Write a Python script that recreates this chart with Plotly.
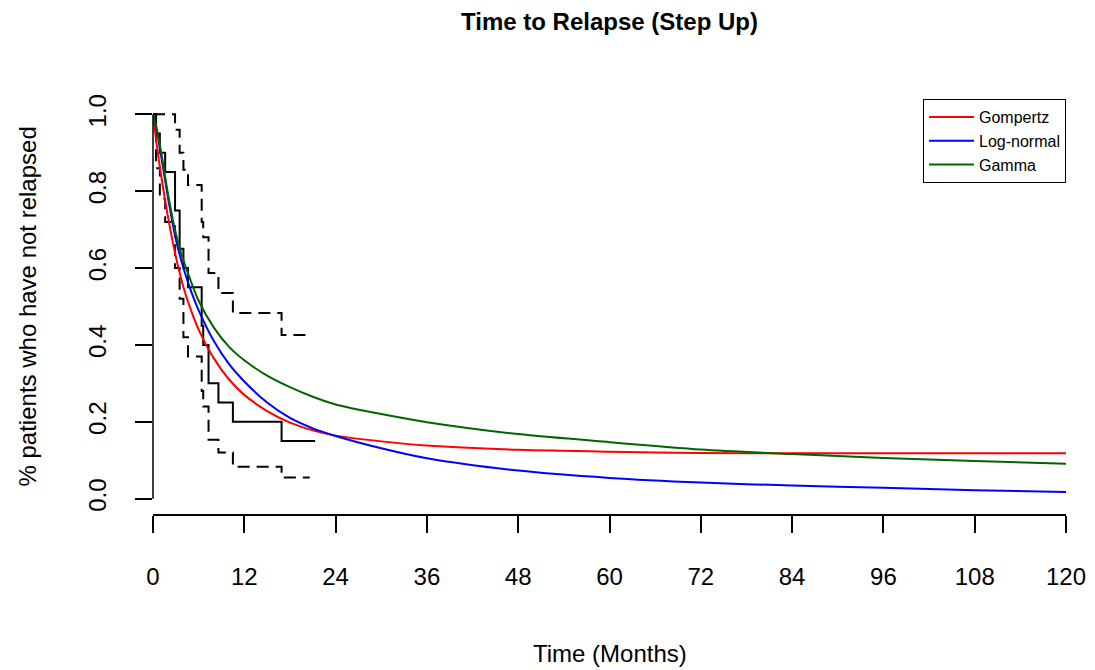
import plotly.graph_objects as go

# Kaplan-Meier estimate (step function) and 95% confidence limits
km_time = [0, 0.4, 0.9, 1.6, 2.9, 3.5, 4.0, 4.6, 6.4, 6.6, 7.3, 8.6, 10.5, 16.9, 21.3]
km_surv = [1.0, 0.95, 0.9, 0.85, 0.75, 0.65, 0.6, 0.55, 0.45, 0.4, 0.3, 0.25, 0.2, 0.15, 0.15]

ci_time = [0, 0.4, 0.9, 1.6, 2.9, 3.5, 4.0, 4.6, 6.4, 6.6, 7.3, 8.6, 10.5, 16.9, 20.6]
ci_upper = [1.0, 1.0, 1.0, 1.0, 0.96, 0.90, 0.856, 0.816, 0.72, 0.68, 0.587, 0.535, 0.483, 0.426, 0.426]
ci_lower = [1.0, 0.86, 0.78, 0.72, 0.60, 0.52, 0.42, 0.37, 0.28, 0.24, 0.153, 0.12, 0.083, 0.055, 0.055]

# Fitted parametric survival curves
fit_time = [0, 0.5, 1, 2, 3, 4, 5, 6, 8, 10, 12, 15, 18, 21, 24, 30, 36, 48, 60, 72, 84, 96, 108, 120]
gompertz = [1.0, 0.92, 0.85, 0.73, 0.63, 0.55, 0.49, 0.44, 0.365, 0.31, 0.27, 0.228, 0.198, 0.178, 0.164,
            0.149, 0.138, 0.127, 0.122, 0.119, 0.118, 0.118, 0.118, 0.118]
lognormal = [1.0, 0.96, 0.90, 0.78, 0.675, 0.60, 0.54, 0.49, 0.41, 0.35, 0.305, 0.25, 0.21, 0.183, 0.163,
             0.131, 0.105, 0.073, 0.054, 0.042, 0.034, 0.028, 0.022, 0.017]
gamma = [1.0, 0.96, 0.91, 0.79, 0.69, 0.62, 0.565, 0.515, 0.445, 0.395, 0.36, 0.32, 0.29, 0.265, 0.245,
         0.22, 0.199, 0.168, 0.147, 0.128, 0.116, 0.106, 0.098, 0.091]

x_ticks = list(range(0, 121, 12))
y_ticks = [0.0, 0.2, 0.4, 0.6, 0.8, 1.0]
y_ticktext = ["0.0", "0.2", "0.4", "0.6", "0.8", "1.0"]

FONT = "Liberation Sans, Arial, sans-serif"

fig = go.Figure()

# KM step and CIs
fig.add_trace(go.Scatter(x=km_time, y=km_surv, mode="lines", line=dict(color="black", width=2, shape="hv"),
                         showlegend=False, hoverinfo="skip"))
fig.add_trace(go.Scatter(x=ci_time, y=ci_upper, mode="lines",
                         line=dict(color="black", width=2, shape="hv", dash="12px,7px"),
                         showlegend=False, hoverinfo="skip"))
fig.add_trace(go.Scatter(x=ci_time, y=ci_lower, mode="lines",
                         line=dict(color="black", width=2, shape="hv", dash="12px,7px"),
                         showlegend=False, hoverinfo="skip"))

for name, vals, col in [("Gompertz", gompertz, "#ff0000"), ("Log-normal", lognormal, "#0000ff"),
                        ("Gamma", gamma, "#006400")]:
    fig.add_trace(go.Scatter(x=fit_time, y=vals, mode="lines", name=name,
                             line=dict(color=col, width=2, shape="spline", smoothing=0.8)))

fig.update_layout(
    width=1095, height=670,
    margin=dict(l=153, r=29, t=99, b=156, autoexpand=False),
    paper_bgcolor="white", plot_bgcolor="white",
    font=dict(family=FONT, size=24, color="black"),
    title=dict(text="<b>Time to Relapse (Step Up)</b>", x=0.5, xref="paper", xanchor="center",
               y=1 - 22 / 670, yref="container", yanchor="middle", font=dict(size=24, family=FONT)),
    legend=dict(x=1, y=1, xanchor="right", yanchor="top", bordercolor="black", borderwidth=1,
                bgcolor="white", font=dict(size=16, family=FONT), itemwidth=45, tracegroupgap=0),
    xaxis=dict(range=[0, 120], tickvals=x_ticks, ticks="outside", ticklen=17, tickwidth=1.5,
               tickcolor="black", showline=True, linecolor="black", linewidth=1.5, showgrid=False,
               zeroline=False, ticklabelstandoff=23, tickfont=dict(size=24), automargin=False,
               ticklabeloverflow="allow"),
    yaxis=dict(range=[-0.04, 1.04], tickvals=y_ticks, ticktext=y_ticktext, tickangle=-90, ticks="outside",
               ticklen=17, tickwidth=1.5, tickcolor="black", showline=False, showgrid=False, zeroline=False,
               ticklabelstandoff=19, tickfont=dict(size=24), automargin=False, ticklabeloverflow="allow"),
    shapes=[dict(type="line", xref="paper", yref="y", x0=0, x1=0, y0=0, y1=1,
                 line=dict(color="black", width=1.5))],
    annotations=[
        dict(text="% patients who have not relapsed", xref="paper", yref="paper", x=0, y=0.5,
             xanchor="center", yanchor="middle", xshift=-126, textangle=-90, showarrow=False,
             font=dict(size=24, family=FONT)),
        dict(text="Time (Months)", xref="paper", yref="paper", x=0.5, y=0, xanchor="center",
             yanchor="middle", yshift=-139, showarrow=False, font=dict(size=24, family=FONT)),
    ],
)

fig.write_html("out.html", config={"displayModeBar": False},
               post_script="document.body.style.margin='0';")
